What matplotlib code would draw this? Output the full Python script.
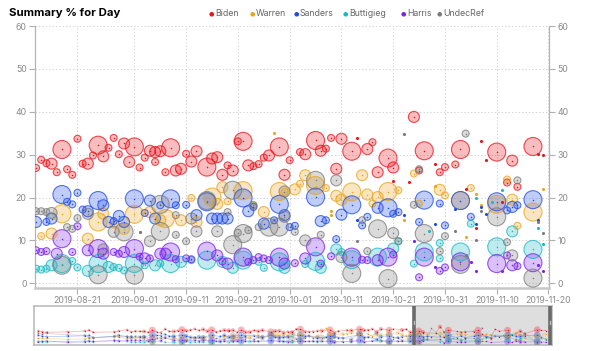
import pandas as pd
import numpy as np
import matplotlib
matplotlib.use('Agg')
import matplotlib.pyplot as plt
import matplotlib.dates as mdates

plt.rcParams['font.family'] = ['Inter', 'DejaVu Sans']

base = pd.Timestamp('2019-08-01')
# poll sample size classes
T, S, M, L = 150, 600, 1500, 4000

# (day since 2019-08-01, percent, sample size)
biden = [(11, 31.7, S), (17, 31.2, L), (20, 33.7, S), (24, 32.2, L), (27, 33.9, S), (26, 31.6, S),
         (29, 32.6, M), (31, 31.8, L), (34, 30.9, M), (35, 30.6, M), (25, 29.6, M), (23, 29.8, S),
         (28, 30.1, S), (33, 29.3, S), (30, 28.3, M), (13, 28.8, S), (12, 26.9, S), (15, 27.9, M),
         (14, 28.0, S), (16, 25.9, S), (18, 26.6, S), (19, 25.3, S), (21, 27.9, S), (22, 27.9, M),
         (32, 27.0, S), (35, 28.3, S), (36, 30.8, M), (38, 31.6, L), (37, 25.9, S), (39, 26.3, M),
         (40, 26.7, M), (41, 30.2, S), (42, 28.4, M), (43, 30.8, M), (45, 27.1, L), (46, 29.1, M),
         (47, 29.4, M), (48, 25.3, M), (49, 27.5, S), (50, 26.3, M), (52, 33.1, L), (51, 33.1, S),
         (53, 27.5, M), (54, 27.3, S), (55, 27.8, S), (56, 29.3, S), (57, 29.8, M), (59, 31.8, L),
         (60, 25.3, M), (61, 28.7, S), (63, 30.6, S), (64, 30.1, M), (66, 33.3, L), (67, 30.9, M),
         (68, 31.4, S), (69, 33.9, S), (71, 33.7, M), (73, 30.8, L), (74, 33.9, T), (76, 31.3, M),
         (77, 32.9, S), (70, 26.7, M), (78, 25.9, M), (80, 29.2, L), (81, 27.0, M), (85, 38.8, M),
         (87, 30.9, L), (81, 23.8, T), (84, 23.6, T), (94, 31.2, L), (101, 30.6, L), (104, 28.6, M),
         (108, 31.9, L), (109, 30.1, T), (110, 29.8, T), (89, 27.9, T), (90, 25.9, S), (91, 27.1, S),
         (93, 27.7, S), (98, 33.1, T), (99, 28.8, T), (103, 23.5, S), (105, 22.5, S), (95, 21.9, T),
         (97, 12.9, T), (102, 19.0, T), (86, 26.3, S)]

warren = [(11, 12.0, S), (13, 11.0, S), (15, 11.6, M), (17, 16.2, L), (22, 10.4, M), (24, 14.3, L),
          (25, 16.2, M), (27, 13.7, S), (31, 16.1, L), (29, 12.7, M), (32, 12.0, T), (34, 16.6, M),
          (36, 14.7, M), (37, 15.1, L), (40, 14.7, M), (42, 19.9, S), (43, 14.3, M), (46, 20.1, L),
          (47, 18.5, M), (49, 19.1, S), (52, 21.6, L), (48, 22.4, M), (56, 16.6, M), (54, 18.2, S),
          (59, 21.4, L), (60, 21.3, S), (58, 35.0, T), (64, 25.2, M), (62, 21.9, M), (63, 23.2, S),
          (66, 22.8, L), (68, 22.2, S), (70, 20.4, M), (71, 19.5, M), (73, 21.3, L), (76, 20.7, M),
          (77, 18.6, S), (78, 20.1, M), (80, 21.4, L), (82, 21.7, S), (75, 25.2, M), (69, 16.8, T),
          (69, 15.9, T), (85, 25.6, S), (83, 14.7, T), (86, 18.6, S), (90, 21.8, M), (89, 22.8, T),
          (91, 20.5, S), (94, 19.3, L), (96, 22.2, S), (97, 20.9, T), (101, 18.4, L), (103, 24.2, S),
          (104, 19.5, M), (105, 13.4, S), (108, 16.6, L), (110, 21.9, T), (95, 10.8, T), (98, 18.2, T)]

sanders = [(11, 16.0, S), (12, 14.3, M), (14, 14.3, S), (15, 15.1, M), (17, 20.7, L), (18, 19.0, S),
           (19, 18.4, S), (20, 21.1, S), (21, 17.2, S), (22, 16.8, M), (24, 19.3, L), (25, 18.2, M),
           (26, 14.3, M), (27, 14.5, S), (28, 15.7, M), (29, 14.3, M), (31, 19.7, L), (33, 16.4, S),
           (34, 19.3, M), (35, 15.1, M), (36, 18.2, S), (38, 19.7, L), (39, 18.2, S), (41, 18.3, S),
           (43, 15.9, M), (45, 19.0, L), (46, 15.1, M), (47, 15.1, M), (48, 15.1, M), (49, 15.1, M),
           (52, 19.9, L), (53, 16.8, M), (54, 17.8, S), (56, 13.9, M), (58, 14.7, S), (59, 18.4, L),
           (60, 15.9, M), (61, 13.1, S), (62, 13.4, S), (66, 20.1, L), (67, 14.5, M), (68, 14.7, S),
           (70, 10.3, S), (71, 16.0, M), (73, 18.3, L), (74, 14.7, T), (75, 13.5, S), (76, 15.5, S),
           (78, 17.6, M), (80, 17.6, L), (81, 16.2, S), (82, 16.6, S), (83, 15.9, T), (86, 14.3, S),
           (87, 19.4, L), (89, 13.9, T), (90, 18.6, S), (91, 13.5, S), (93, 17.4, T), (94, 19.3, L),
           (96, 15.5, S), (97, 13.9, T), (98, 17.8, T), (99, 16.2, T), (101, 19.0, L), (103, 17.0, S),
           (104, 17.8, M), (105, 18.2, S), (108, 19.5, L), (109, 14.7, T)]

buttigieg = [(11, 5.1, S), (12, 3.4, S), (13, 3.2, S), (14, 3.4, S), (15, 4.2, M), (17, 4.6, L),
             (19, 5.2, S), (20, 3.7, S), (22, 2.9, M), (24, 4.6, L), (26, 3.8, M), (27, 3.8, S),
             (28, 3.6, S), (29, 3.0, S), (31, 4.6, L), (33, 4.2, S), (35, 4.2, M), (36, 4.6, S),
             (38, 4.6, L), (40, 5.0, M), (42, 5.4, S), (45, 5.4, L), (48, 5.0, M), (50, 3.6, M),
             (52, 5.4, L), (55, 5.0, S), (56, 3.6, S), (59, 5.0, L), (60, 3.6, M), (64, 4.5, S),
             (66, 5.1, L), (67, 3.6, M), (70, 7.9, M), (71, 7.3, S), (73, 5.5, L), (78, 6.1, L),
             (81, 8.1, M), (82, 9.8, S), (85, 4.6, S), (87, 7.3, L), (88, 12.1, T), (90, 9.4, S),
             (90, 5.8, S), (94, 7.3, L), (96, 13.9, S), (97, 19.9, T), (100, 19.0, T), (101, 8.5, L),
             (102, 21.8, T), (104, 12.1, M), (108, 7.9, L), (109, 12.9, T), (110, 9.1, T)]

harris = [(11, 7.9, S), (12, 7.7, S), (13, 7.3, S), (14, 7.5, S), (16, 6.9, M), (17, 10.4, L),
          (19, 7.3, S), (20, 13.3, S), (22, 7.7, M), (24, 8.1, L), (25, 6.9, M), (27, 7.3, S),
          (28, 6.9, S), (29, 7.3, M), (31, 8.1, L), (32, 6.2, S), (33, 5.8, M), (34, 5.8, S),
          (36, 6.9, M), (37, 6.9, M), (38, 7.3, L), (39, 5.6, S), (41, 5.8, S), (42, 5.6, S),
          (45, 7.5, L), (47, 6.5, M), (48, 5.1, S), (49, 4.6, M), (52, 6.1, L), (53, 5.0, S),
          (54, 5.4, S), (55, 6.1, S), (56, 5.8, S), (57, 5.4, S), (59, 6.1, L), (60, 4.6, M),
          (62, 4.7, S), (64, 5.8, M), (66, 8.5, L), (67, 4.6, S), (69, 6.3, S), (73, 6.1, L),
          (75, 5.5, S), (76, 5.4, S), (78, 5.4, M), (80, 6.1, L), (81, 6.7, S), (85, 9.8, T),
          (86, 1.4, S), (87, 6.1, L), (89, 3.7, T), (90, 2.9, S), (91, 3.7, S), (94, 5.0, L),
          (96, 5.0, T), (97, 2.9, T), (101, 4.6, L), (102, 2.9, T), (103, 6.5, S), (104, 4.2, M),
          (105, 4.0, S), (108, 4.8, L), (109, 4.2, T), (110, 2.9, T)]

undecref = [(11, 16.6, S), (12, 16.8, S), (13, 16.8, S), (14, 16.6, S), (15, 16.4, M), (17, 4.2, L),
            (18, 13.1, S), (19, 12.7, S), (20, 15.2, S), (22, 16.2, M), (24, 2.0, L), (25, 7.9, M),
            (27, 12.0, M), (29, 12.0, L), (31, 1.9, L), (32, 12.0, T), (34, 9.8, M), (36, 18.4, L),
            (36, 12.1, L), (39, 11.3, S), (39, 15.9, S), (41, 9.8, S), (42, 15.1, M), (43, 12.1, M),
            (45, 19.3, L), (47, 12.1, M), (49, 16.6, S), (50, 21.7, L), (50, 9.0, L), (51, 11.8, S),
            (52, 11.6, L), (53, 12.4, S), (55, 13.1, S), (54, 18.2, S), (57, 13.1, L), (59, 13.1, L),
            (60, 21.4, M), (60, 15.5, M), (62, 12.0, S), (64, 10.0, M), (66, 24.0, L), (67, 11.3, S),
            (70, 24.0, M), (71, 6.1, M), (73, 2.3, L), (74, 9.9, T), (75, 14.7, S), (76, 7.5, S),
            (78, 12.7, L), (80, 1.1, L), (81, 11.7, M), (82, 9.8, S), (83, 34.7, T), (86, 26.6, S),
            (87, 11.6, L), (85, 18.3, S), (90, 7.5, S), (91, 11.0, S), (93, 12.1, T), (94, 4.4, L),
            (95, 34.9, S), (95, 6.5, T), (97, 10.0, T), (101, 15.5, L), (103, 9.6, S), (104, 6.5, M),
            (105, 24.0, S), (108, 1.2, L), (109, 14.3, T), (110, 11.8, T), (98, 16.8, T)]

# earlier polls only visible in the navigator strip
nav_early_days = [-10, -9, -8, -3, 1, 2, 3, 8, 9]
nav_early = {
    'Biden':     [29, 27, 26, 27, 29, 31, 26, 27, 29],
    'Warren':    [12, 13, 12, 10, 11, 13, 14, 15, 16],
    'Sanders':   [19, 17, 16, 17, 18, 19, 14, 17, 20],
    'Buttigieg': [5, 4, 4, 5, 6, 5, 4, 6, 5],
    'Harris':    [4, 5, 6, 3, 4, 7, 5, 8, 7],
    'UndecRef':  [24, 22, 24, 20, 19, 14, 13, 17, 16],
}

names = ['Biden', 'Warren', 'Sanders', 'Buttigieg', 'Harris', 'UndecRef']
series = [biden, warren, sanders, buttigieg, harris, undecref]
colors = ['#e8141c', '#eba41c', '#1f4ce6', '#19bac6', '#7a22ee', '#7c7c7c']

tick_dates = ['2019-08-21', '2019-09-01', '2019-09-11', '2019-09-21', '2019-10-01',
              '2019-10-11', '2019-10-21', '2019-10-31', '2019-11-10', '2019-11-20']


def to_dates(days):
    return base + pd.to_timedelta(np.asarray(days, dtype=float), unit='D')


fig = plt.figure(figsize=(6, 3.51), dpi=100)
ax = fig.add_axes([35 / 600, 1 - 288 / 351, 514 / 600, 262 / 351])

for name, data, c in zip(names, series, colors):
    d = np.array(data, dtype=float)
    x = to_dates(d[:, 0])
    y = d[:, 1]
    n = d[:, 2]
    big = n > T
    ax.scatter(x[big], y[big], s=n[big] * 0.042, facecolor=c, edgecolor='none', alpha=0.28, zorder=2)
    ax.scatter(x[big], y[big], s=n[big] * 0.042, facecolor='none', edgecolor=c, linewidth=0.8,
               alpha=0.75, zorder=3)
    ax.scatter(x[big], y[big], s=1.2, color=c, linewidth=0, zorder=4)
    ax.scatter(x[~big], y[~big], s=5, color=c, linewidth=0, zorder=4)

ax.set_ylim(-1.1, 60)
ax.set_xlim(base + pd.Timedelta(days=11.8), base + pd.Timedelta(days=111.1))
ax.set_yticks(range(0, 61, 10))
ax.set_xticks(pd.to_datetime(tick_dates))
ax.xaxis.set_major_formatter(mdates.DateFormatter('%Y-%m-%d'))
ax.tick_params(axis='both', labelsize=6.3, labelcolor='#8a8a8a', color='#b0b0b0', length=4, width=0.8, pad=2)
ax.tick_params(axis='y', right=True, labelright=True)
ax.grid(True, linestyle=(0, (1.5, 2)), color='#d5d5d5', linewidth=0.7, zorder=0)
ax.set_axisbelow(True)
ax.spines['top'].set_visible(False)
for sp in ['left', 'right']:
    ax.spines[sp].set_color('#b5b5b5')
    ax.spines[sp].set_linewidth(0.9)
ax.spines['bottom'].set_color('#c8c8c8')
ax.spines['bottom'].set_linewidth(1.8)

# title and legend
fig.text(9 / 600, 1 - 13 / 351, 'Summary % for Day', fontsize=8.2, fontweight='bold', va='center', ha='left')
legend_x = [211, 252, 296, 345, 403, 439]
for lx, name, c in zip(legend_x, names, colors):
    fig.text(lx / 600, 1 - 13.5 / 351, '\u25CF', color=c, fontsize=4.5, va='center', ha='center',
             family='DejaVu Sans')
    fig.text((lx + 4) / 600, 1 - 13 / 351, name, color='#666666', fontsize=6.3, va='center', ha='left')

# navigator strip
nav = fig.add_axes([34 / 600, 1 - 345 / 351, 518 / 600, 39 / 351])
for name, data, c in zip(names, series, colors):
    d = np.array(data, dtype=float)
    days = np.concatenate([nav_early_days, d[:, 0]])
    vals = np.concatenate([nav_early[name], d[:, 1]])
    sizes = np.concatenate([np.full(len(nav_early_days), S), d[:, 2]])
    daily = pd.Series(vals, index=days).groupby(level=0).mean()
    nav.plot(to_dates(daily.index), daily.values, color=c, linewidth=0.6, alpha=0.3, zorder=2)
    nav.scatter(to_dates(days), vals, s=sizes * 0.006, color=c, alpha=0.3, linewidth=0, zorder=3)
    nav.scatter(to_dates(days), vals, s=1.0, color=c, linewidth=0, zorder=4)

nav.set_xlim(base + pd.Timedelta(days=-11), base + pd.Timedelta(days=111.5))
nav.set_ylim(-3, 86)
nav.axvspan(base + pd.Timedelta(days=78.9), base + pd.Timedelta(days=111.5), color='#dedede', zorder=0)
for hx in [78.9, 111.0]:
    nav.axvline(base + pd.Timedelta(days=hx), color='#6a6a6a', linewidth=2.6, zorder=5)
    nav.plot([base + pd.Timedelta(days=hx)] * 2, [45, 52], color='#bdbdbd', linewidth=1.0, zorder=6)
nav.set_xticks([])
nav.set_yticks([])
for sp in nav.spines.values():
    sp.set_color('#bcbcbc')
    sp.set_linewidth(1.2)

plt.savefig('out.png', dpi=100)
